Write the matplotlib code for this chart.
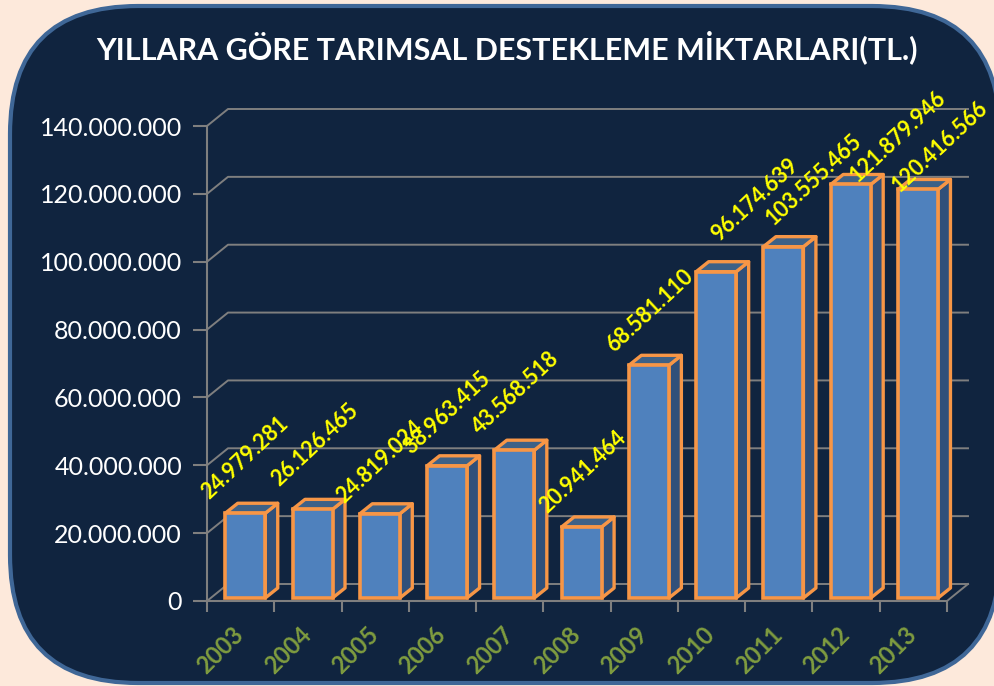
import matplotlib
matplotlib.use("Agg")
import matplotlib.pyplot as plt
from matplotlib.patches import FancyBboxPatch, Polygon

years = ["2003", "2004", "2005", "2006", "2007", "2008", "2009", "2010", "2011", "2012", "2013"]
values = [24979281, 26126465, 24819024, 38963415, 43568518, 20941464, 68581110, 96174639, 103555465, 121879946, 120416566]
y_ticks = [0, 20000000, 40000000, 60000000, 80000000, 100000000, 120000000, 140000000]
# etiketlerin elle kaydirilmis konumlari (piksel)
label_dx = [0, 2, 0, 0, 1, 1, 1, 39, 30, 47, 22]
label_dy = [55, 65, 52, 53, 57, 55, 55, 72, 67, 48, 43]

W, H = 995, 686
X0, Y0, PW, PH = 207, 601, 740, 475
px_x = 11 / PW            # veri birimi / piksel
px_y = 140000000 / PH

plt.rcParams["font.family"] = ["Lato", "DejaVu Sans"]
fig = plt.figure(figsize=(W / 100, H / 100), dpi=100, facecolor="#fde9db")

# arka plan paneli, piksel koordinatlarinda
bg = fig.add_axes([0, 0, 1, 1])
bg.set_xlim(0, W)
bg.set_ylim(H, 0)
bg.axis("off")
bg.add_patch(FancyBboxPatch((10, 6), 990, 677, boxstyle="round,pad=0,rounding_size=128",
                            facecolor="#10243f", edgecolor="#3f6797", linewidth=3))
bg.text(507, 47, "YILLARA GÖRE TARIMSAL DESTEKLEME MİKTARLARI(TL.)", color="white",
        fontsize=21.9, fontweight="bold", ha="center", va="center")

ax = fig.add_axes([X0 / W, (H - Y0) / H, PW / W, PH / H])
ax.patch.set_alpha(0)
ax.set_xlim(-0.5, 10.5)
ax.set_ylim(0, 140000000)
for s in ["top", "right"]:
    ax.spines[s].set_visible(False)
for s in ["left", "bottom"]:
    ax.spines[s].set_color("#7f7f7f")
    ax.spines[s].set_linewidth(1.5)

# arka duvar cizgileri
back_x = 21 * px_x
back_y = 17 * px_y
for v in y_ticks:
    ax.plot([-0.5, -0.5 + back_x, 10.5 + back_x], [v, v + back_y, v + back_y],
            color="#7f7f7f", lw=1.4, clip_on=False, zorder=1)
ax.plot([10.5, 10.5 + back_x], [0, back_y], color="#7f7f7f", lw=1.4, clip_on=False, zorder=1)

ax.set_yticks(y_ticks)
ax.set_yticklabels([f"{v:,}".replace(",", ".") for v in y_ticks], color="white", fontsize=18)
ax.set_xticks([i - 0.5 for i in range(12)])
ax.set_xticklabels([])
ax.tick_params(axis="y", length=10, width=1.5, color="#7f7f7f", pad=8)
ax.tick_params(axis="x", length=8, width=1.5, color="#7f7f7f")

# 3B sutunlar
bar_w = 40 * px_x
base = 3 * px_y
dep_x = 12.5 * px_x
dep_y = 10 * px_y
edge = "#f79646"
for i, (year, v) in enumerate(zip(years, values)):
    left = i + 4.6 * px_x - bar_w / 2
    right = left + bar_w
    top = v + base
    ax.add_patch(Polygon([(right, base), (right + dep_x, base + dep_y), (right + dep_x, top + dep_y), (right, top)],
                         facecolor="#30507a", edgecolor=edge, lw=2.4, joinstyle="round", clip_on=False, zorder=3))
    ax.add_patch(Polygon([(left, top), (left + dep_x, top + dep_y), (right + dep_x, top + dep_y), (right, top)],
                         facecolor="#3d6187", edgecolor=edge, lw=2.4, joinstyle="round", clip_on=False, zorder=3))
    ax.bar(left, v, bottom=base, width=bar_w, align="edge", color="#4f81bd", edgecolor=edge, linewidth=2.6,
           clip_on=False, zorder=4)
    ax.annotate(f"{v:,}".replace(",", "."), (left + bar_w / 2, top), xytext=(label_dx[i], label_dy[i]),
                textcoords="offset pixels", color="#ffff00", fontsize=15.5, fontweight="bold",
                rotation=43, ha="center", va="center", rotation_mode="anchor", zorder=6)
    ax.annotate(year, (i, 0), xytext=(-20, -49), textcoords="offset pixels", color="#7f9c3f",
                fontsize=17, fontweight="bold", rotation=45, ha="center", va="center",
                rotation_mode="anchor")

fig.savefig("out.png", dpi=100, facecolor=fig.get_facecolor())
